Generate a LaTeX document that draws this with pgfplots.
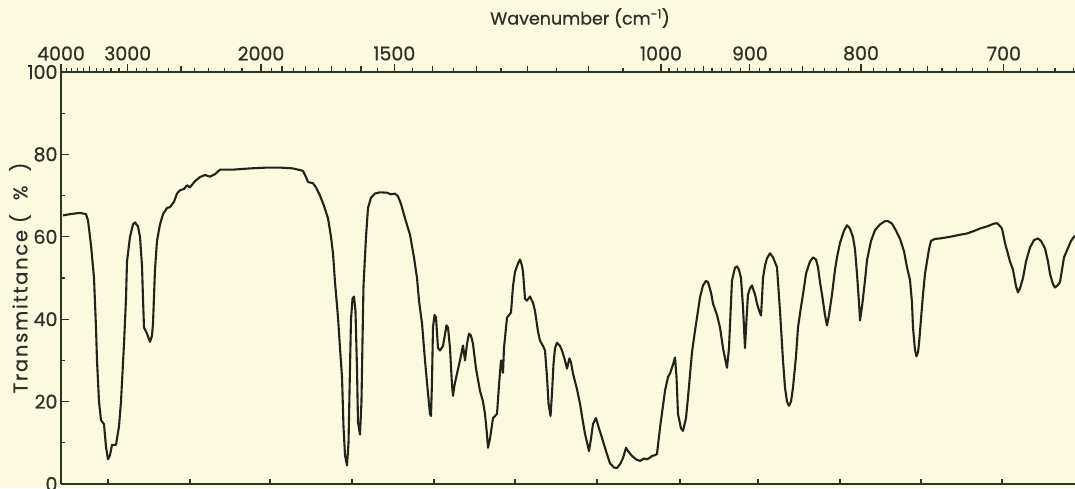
\documentclass[border=0pt]{standalone}
\usepackage{pgfplots}
\pgfplotsset{compat=1.18}
\usepackage{fontspec}
\setmainfont{Poppins}[FakeBold=0.7]
\definecolor{paper}{RGB}{251,249,222}
\definecolor{ink}{RGB}{34,36,28}
\definecolor{axink}{RGB}{44,52,34}
\definecolor{txt}{RGB}{48,48,42}

\pgfplotstableread{
lambda T
2.525 65.2
2.6125 65.5
2.7375 65.8
2.8125 65.5
2.8375 64
2.875 58
2.9125 50
2.9375 38
2.95 30
2.975 20
3.0 15.5
3.0375 14.5
3.0625 9
3.0875 6
3.1125 7
3.1375 9.5
3.1875 9.5
3.225 14
3.25 20
3.2875 34
3.3125 45
3.325 54
3.3625 60
3.4 63
3.425 63.5
3.4625 62.5
3.4875 60
3.5125 53
3.525 45
3.5375 38
3.575 36.5
3.6125 34.5
3.6375 36
3.65 39
3.675 52
3.7 59
3.7375 63
3.775 65.5
3.825 67
3.8625 67.2
3.9125 68.5
3.95 70.5
3.9875 71.3
4.0375 71.6
4.075 72.5
4.1125 72
4.175 73.5
4.2375 74.5
4.3 75
4.3625 74.6
4.425 75.2
4.4875 76.3
4.65 76.3
4.8625 76.6
5.075 76.8
5.2375 76.8
5.4 76.6
5.525 76
5.5625 74.5
5.5875 73.3
5.65 73
5.6875 72
5.7375 70
5.7875 67.5
5.8375 64.5
5.875 60
5.9 56
5.925 49
5.9625 40.5
5.9875 33
6.0125 26
6.031 14
6.05 7
6.075 4.5
6.094 10
6.106 22
6.125 40
6.144 45
6.1625 45.5
6.181 42
6.2 28
6.2125 15
6.2375 12
6.256 20
6.269 35
6.281 48
6.3125 60
6.3375 67
6.375 69.5
6.425 70.5
6.4875 70.8
6.575 70.7
6.625 70.3
6.675 70.5
6.7125 69.8
6.75 68
6.8 64.5
6.8625 60.5
6.9125 55
6.95 50
6.975 44.5
7.0125 39
7.05 30
7.0875 22
7.1125 17
7.125 16.5
7.1375 25
7.15 38
7.169 41
7.1875 40.5
7.2125 33
7.2375 32.4
7.275 33.5
7.319 38.5
7.3375 38
7.3625 33
7.3875 24
7.4 21.4
7.419 24
7.45 26.8
7.4875 30
7.525 33.6
7.55 30
7.575 34
7.6 36.5
7.625 36
7.65 34
7.6875 28
7.7375 22.6
7.775 20
7.8 17
7.825 12
7.8375 8.8
7.8625 11
7.9 16
7.95 17
7.975 24
8.0 30
8.025 27
8.0375 33
8.075 40.4
8.125 41.6
8.15 48
8.175 51.5
8.2125 53.5
8.2375 54.5
8.2625 53
8.275 51.5
8.3 45
8.325 44.5
8.3625 45.5
8.4 44
8.425 42
8.4625 37
8.4875 34.8
8.525 33.5
8.55 32.4
8.575 26
8.594 19.5
8.619 16.5
8.6375 22
8.656 29
8.675 33
8.7 34.3
8.7375 33.5
8.7625 32.4
8.8 30
8.825 28
8.856 30.5
8.875 29.5
8.9 26.8
8.95 23
8.9875 19.5
9.025 15
9.05 12.2
9.1 8
9.125 11
9.15 14.6
9.1875 16
9.225 13.5
9.2625 11.2
9.3125 8
9.3625 5
9.4125 4
9.45 3.9
9.4875 4.8
9.525 6.3
9.5625 8.8
9.5875 8
9.6375 6.8
9.6875 6.0
9.7375 5.6
9.7875 6.2
9.825 6
9.8625 6.4
9.8875 6.8
9.925 7
9.95 7.3
9.9875 13.6
10.025 19
10.05 22.6
10.0875 26
10.1125 26.8
10.15 29
10.175 30.7
10.194 26
10.2125 17
10.25 13.5
10.275 12.9
10.3125 16
10.3375 21
10.3875 32
10.425 37.2
10.4625 42
10.4875 45.3
10.525 48.2
10.5625 49.3
10.5875 49
10.625 46.5
10.65 43.8
10.7 41
10.7375 38
10.775 33
10.825 28.2
10.85 33
10.875 44
10.8875 49.4
10.925 52.5
10.95 52.8
10.975 52
11.0 50
11.025 43
11.05 33
11.069 40
11.0875 46
11.1125 47.5
11.1375 48.2
11.175 46
11.2 43.8
11.231 41.8
11.25 40.9
11.2625 45
11.275 50
11.3 53
11.325 54.8
11.3625 56
11.4 55
11.45 52.6
11.4875 42
11.525 30
11.55 23.4
11.575 20
11.6 19
11.625 20
11.65 23.4
11.6875 31
11.7125 38
11.75 43
11.775 46
11.8125 51
11.8375 52.6
11.8625 54
11.9 55
11.9375 54.5
11.9625 52.6
11.9875 49
12.0125 46
12.05 41
12.075 38.5
12.1 41
12.1375 46
12.175 52
12.2 55
12.2375 58.5
12.2875 61.5
12.325 62.8
12.3625 62
12.4 59.9
12.425 57
12.45 51
12.475 44
12.4875 39.7
12.5125 43
12.55 49.4
12.575 54.3
12.625 59
12.675 61.6
12.7375 63
12.8 63.8
12.8375 63.8
12.8875 63.2
12.9375 61.5
12.9875 59.5
13.0375 56.5
13.075 52.6
13.1125 49.5
13.1375 44
13.15 38
13.175 32.5
13.194 31
13.2125 32
13.225 34
13.25 40
13.275 46
13.3 51
13.325 54
13.35 57
13.375 59
13.425 59.5
13.4875 59.6
13.6125 60
13.7375 60.5
13.825 60.8
13.925 61.5
13.9875 62
14.0875 62.6
14.1625 63.2
14.2 63.3
14.2375 62.6
14.2625 62
14.3 58.5
14.325 56.7
14.3625 54
14.4 52
14.4375 48
14.4625 46.5
14.4875 47.5
14.525 50
14.5625 54
14.6125 57.4
14.6625 59.2
14.7125 59.6
14.75 59
14.8 57.2
14.8375 54
14.8625 51
14.9 48.5
14.925 47.7
14.9625 48.3
14.9875 49
15.0125 52
15.0375 55
15.075 56.7
15.125 59
15.175 60.3
}\spectrum

\begin{document}
\begin{tikzpicture}
\fill[paper] (-61pt,-4pt) rectangle (1014pt,484pt);
\begin{axis}[
  scale only axis, width=1014pt, height=412pt,
  xmin=2.5, xmax=15.175, ymin=0, ymax=100,
  axis y line*=left,
  axis line style={axink, line width=1.4pt},
  tick style={axink, line width=1.2pt},
  xtick pos=upper, xticklabel pos=upper,
  xtick align=outside, ytick align=inside,
  major tick length=8pt, minor tick length=4pt,
  xtick={2.5,3.3333,5,6.6667,10,11.1111,12.5,14.2857},
  xticklabels={4000,3000,2000,1500,1000,900,800,700},
  minor xtick={2.5641,2.6316,2.7027,2.7778,2.9412,3.0303,3.125,3.2258,3.4483,3.5714,3.7037,3.8462,4.1667,4.3478,4.5455,4.7619,5.1282,5.4054,5.7143,6.0606,6.4516,6.8966,7.4074,8.0,8.6957,9.5238,10.101,10.2041,10.3093,10.4167,10.6383,10.7527,10.8696,10.989,11.236,11.3636,11.4943,11.6279,11.9048,12.0482,12.1951,12.3457,12.6582,12.8205,12.987,13.1579,13.5135,13.6986,13.8889,14.0845,14.4928,14.7059,14.9254,15.1515},
  extra x ticks={2.8571,4.0,5.2632,5.5556,5.8824,6.25,7.1429,7.6923,8.3333,9.0909,10.5263,11.7647,13.3333},
  extra x tick labels={},
  extra x tick style={major tick length=6pt},
  ytick={0,20,40,60,80,100},
  minor ytick={10,30,50,70,90},
  ytick pos=left,
  /pgf/number format/assume math mode=true,
  xticklabel style={font=\fontsize{19}{19}\selectfont, text=txt},
  yticklabel style={font=\fontsize{19}{19}\selectfont, text=txt},
  clip=false,
]
\addplot[ink, line width=2.1pt, line join=round] table[x=lambda, y=T] {\spectrum};
\end{axis}
\begin{axis}[
  scale only axis, width=1014pt, height=412pt,
  xmin=2.5, xmax=15.175, ymin=0, ymax=100,
  axis x line*=bottom, axis y line=none,
  axis line style={draw=none},
  tick style={axink, line width=1.2pt},
  xtick align=inside, major tick length=5pt,
  xtick={3.0875,4.1125,5.1125,6.1375,7.1625,8.175,9.2,10.2375,11.2125,12.2375,13.25,14.2625},
  xticklabels={}, ytick=\empty,
]
\end{axis}
\node[text=txt, font=\fontsize{17.5}{17.5}\selectfont] at (519pt,466pt) {Wavenumber (cm\textsuperscript{-1})};
\node[text=txt, font=\fontsize{19.5}{19.5}\selectfont\addfontfeature{LetterSpace=9}, rotate=90] at (-41pt,206pt) {Transmittance (\ \ \%\ \ )};
\pgfresetboundingbox
\path[use as bounding box] (-61pt,-4pt) rectangle (1014pt,484pt);
\end{tikzpicture}
\end{document}
